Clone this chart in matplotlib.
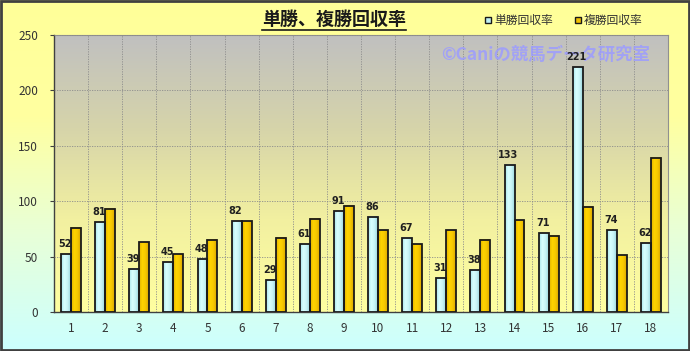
import numpy as np
import matplotlib
matplotlib.use("Agg")
import matplotlib.pyplot as plt
from matplotlib.colors import LinearSegmentedColormap
from matplotlib.patches import Rectangle

plt.rcParams['font.family'] = ['Noto Sans CJK JP', 'DejaVu Sans']

categories = [str(i) for i in range(1, 19)]
tansho = [52, 81, 39, 45, 48, 82, 29, 61, 91, 86, 67, 31, 38, 133, 71, 221, 74, 62]
fukusho = [76, 93, 63, 52, 65, 82, 67, 84, 96, 74, 61, 74, 65, 83, 69, 95, 51, 139]
series_names = ['単勝回収率', '複勝回収率']
title = '単勝、複勝回収率'
watermark = '©Caniの競馬データ研究室'
yticks = [0, 50, 100, 150, 200, 250]

W, H = 690, 351
fig = plt.figure(figsize=(W / 100, H / 100), dpi=100)

# figure background gradient
bg = fig.add_axes([0, 0, 1, 1], zorder=-10)
bg_cmap = LinearSegmentedColormap.from_list('bg', ['#ccffff', '#e8ffd8', '#ffffa0', '#ffff99'])
bg.imshow(np.linspace(0, 1, 256).reshape(-1, 1), cmap=bg_cmap, aspect='auto',
          extent=[0, 1, 0, 1], origin='lower')
bg.set_xlim(0, 1); bg.set_ylim(0, 1)
bg.axis('off')
bg.add_patch(Rectangle((0.0015, 0.003), 0.997, 0.994, fill=False, edgecolor='#404040',
                       linewidth=2.0, transform=bg.transAxes))

ax = fig.add_axes([54 / W, (H - 312) / H, (668 - 54) / W, (312 - 35) / H])
x = np.arange(len(categories))

# plot area gradient
pa_cmap = LinearSegmentedColormap.from_list('pa', ['#ffffa0', '#f2f0a0', '#d6d4aa', '#c0c0c0'])
ax.imshow(np.linspace(0, 1, 256).reshape(-1, 1), cmap=pa_cmap, aspect='auto',
          extent=[-0.5, len(categories) - 0.5, 0, 250], origin='lower', zorder=0)

# grid
ax.set_yticks(yticks)
ax.set_xticks(x)
ax.set_xticklabels(categories)
ax.set_xticks(np.arange(0.5, len(categories) - 1, 1), minor=True)
ax.grid(axis='y', which='major', color='#8c8c8c', linestyle=(0, (1.5, 1.5)), linewidth=0.6, zorder=1)
ax.grid(axis='x', which='minor', color='#8c8c8c', linestyle=(0, (1.5, 1.5)), linewidth=0.6, zorder=1)
ax.grid(axis='x', which='major', visible=False)
ax.set_axisbelow(False)

bw = 0.29
b1 = ax.bar(x - bw / 2, tansho, width=bw, color='none', edgecolor='#1a1a1a', linewidth=1.3, zorder=4)
b2 = ax.bar(x + bw / 2, fukusho, width=bw, color='none', edgecolor='#1a1a1a', linewidth=1.3, zorder=4)

cm1 = LinearSegmentedColormap.from_list('c1', ['#a8e4ea', '#d8ffff', '#c8f4f6', '#98d4dc'])
cm2 = LinearSegmentedColormap.from_list('c2', ['#e0b000', '#ffd400', '#f6c800', '#d8a400'])
grad = np.linspace(0, 1, 64).reshape(1, -1)
for bars, cm in ((b1, cm1), (b2, cm2)):
    for p in bars:
        x0, w, h = p.get_x(), p.get_width(), p.get_height()
        ax.imshow(grad, cmap=cm, aspect='auto', extent=[x0, x0 + w, 0, h], zorder=3)
ax.set_xlim(-0.5, len(categories) - 0.5)
ax.set_ylim(0, 250)

# data labels
for xi, v in zip(x, tansho):
    ax.text(xi - bw / 2 - 0.03, v + 4.5, str(v), ha='center', va='bottom',
            fontsize=7, fontweight='bold', color='#202020', zorder=6,
            family=['DejaVu Sans'])

# watermark
ax.text(0.97, 0.93, watermark, transform=ax.transAxes, ha='right', va='center',
        fontsize=12.5, fontweight='bold', color='#9c9cff', alpha=0.85, zorder=5)

for s in ['top', 'right']:
    ax.spines[s].set_color('#909090')
    ax.spines[s].set_linewidth(0.8)
for s in ['left', 'bottom']:
    ax.spines[s].set_color('#404040')
    ax.spines[s].set_linewidth(1.0)
ax.tick_params(axis='y', length=3, color='#404040', labelsize=8.5, labelcolor='#333333', pad=8.5)
ax.tick_params(axis='x', which='both', length=0, labelsize=8.5, labelcolor='#333333', pad=7)
ax.tick_params(axis='y', which='minor', length=0)

# title
fig.text(334 / W, 1 - 19 / H, title, ha='center', va='center', fontsize=13,
         fontweight='bold', color='#1a1a1a')
fig.add_artist(plt.Line2D([262 / W, 406 / W], [1 - 30 / H, 1 - 30 / H], color='#1a1a1a', linewidth=1.2))

# legend
for (lx, name, fc) in ((488, series_names[0], '#c0f0f4'), (578, series_names[1], '#f0c000')):
    fig.add_artist(Rectangle(((lx - 3) / W, 1 - 23 / H), 6 / W, 6 / H, facecolor=fc,
                             edgecolor='#1a1a1a', linewidth=1.0, transform=fig.transFigure))
    fig.text((lx + 6) / W, 1 - 20 / H, name, ha='left', va='center', fontsize=8.5, color='#333333')

fig.savefig('out.png', dpi=100)
